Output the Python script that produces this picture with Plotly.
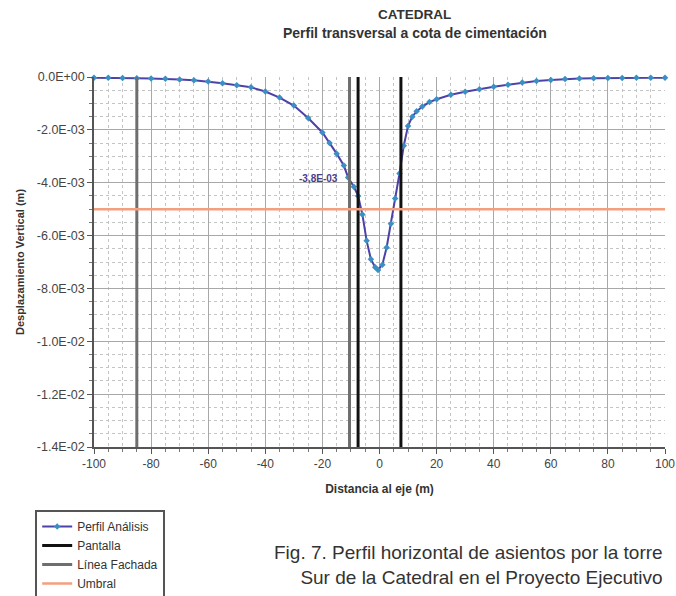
import plotly.graph_objects as go

# Perfil de asientos (distancia en m, desplazamiento vertical en m)
dist = [-100, -95, -90, -85, -80, -75, -70, -65, -60, -55, -50, -45, -40, -35,
        -30, -25, -20, -17.5, -15, -12.5, -11, -9, -7.5, -6, -4.5, -3, -1.5,
        -0.5, 1, 2.5, 4, 5.5, 7, 8.5, 10, 11.5, 13, 15, 17.5, 20, 25, 30, 35,
        40, 45, 50, 55, 60, 65, 70, 75, 80, 85, 90, 95, 100]
asiento = [-0.03e-3, -0.03e-3, -0.04e-3, -0.05e-3, -0.06e-3, -0.07e-3, -0.09e-3,
           -0.12e-3, -0.17e-3, -0.24e-3, -0.31e-3, -0.39e-3, -0.55e-3, -0.78e-3,
           -1.08e-3, -1.55e-3, -2.10e-3, -2.50e-3, -2.90e-3, -3.35e-3, -3.80e-3,
           -4.15e-3, -4.50e-3, -5.20e-3, -6.20e-3, -6.90e-3, -7.20e-3, -7.30e-3,
           -7.10e-3, -6.45e-3, -5.55e-3, -4.60e-3, -3.65e-3, -2.60e-3, -1.85e-3,
           -1.50e-3, -1.30e-3, -1.12e-3, -0.95e-3, -0.84e-3, -0.67e-3, -0.56e-3,
           -0.46e-3, -0.37e-3, -0.29e-3, -0.21e-3, -0.15e-3, -0.11e-3, -0.08e-3,
           -0.06e-3, -0.05e-3, -0.04e-3, -0.04e-3, -0.03e-3, -0.03e-3, -0.03e-3]

# Punto etiquetado
punto_x = -11
punto_y = -3.8e-3
punto_txt = "-3,8E-03"

# Elementos de referencia
pantalla_x = [-7.5, 7.5]
fachada_x = [-85, -10.5]
umbral = -5e-3

x_rango = [-100, 100]
y_rango = [-0.014, 0.0]

x_ticks = [-100, -80, -60, -40, -20, 0, 20, 40, 60, 80, 100]
x_ticktext = ["-100", "-80", "-60", "-40", "-20", "0", "20", "40", "60",
              "80", "100"]
y_ticks = [0.0, -0.002, -0.004, -0.006, -0.008, -0.010, -0.012, -0.014]
y_ticktext = ["0.0E+00", "-2.0E-03", "-4.0E-03", "-6.0E-03", "-8.0E-03",
              "-1.0E-02", "-1.2E-02", "-1.4E-02"]

titulo = "CATEDRAL"
subtitulo = "Perfil transversal a cota de cimentación"
pie = ("Fig. 7. Perfil horizontal de asientos por la torre<br>"
       "Sur de la Catedral en el Proyecto Ejecutivo")

FONT = "Liberation Sans, Arial"


def verticales(xs):
    vx, vy = [], []
    for xv in xs:
        vx += [xv, xv, None]
        vy += [y_rango[1], y_rango[0], None]
    return vx, vy


fig = go.Figure()

fig.add_trace(go.Scatter(
    x=dist, y=asiento, mode="lines+markers", name="Perfil Análisis",
    line=dict(color="#4d42a8", width=2),
    marker=dict(symbol="diamond", size=5, color="#3a8fc4"),
    cliponaxis=False,
))

px_, py_ = verticales(pantalla_x)
fig.add_trace(go.Scatter(x=px_, y=py_, mode="lines", name="Pantalla",
                         line=dict(color="#111111", width=3)))

fx_, fy_ = verticales(fachada_x)
fig.add_trace(go.Scatter(x=fx_, y=fy_, mode="lines", name="Línea Fachada",
                         line=dict(color="#6e6e6e", width=3)))

fig.add_trace(go.Scatter(x=x_rango, y=[umbral, umbral], mode="lines",
                         name="Umbral", line=dict(color="#f2a07e", width=2.5)))

fig.add_annotation(x=punto_x, y=punto_y, text="<b>" + punto_txt + "</b>",
                   showarrow=False, xanchor="right", xshift=-8, yshift=-1,
                   font=dict(size=10, color="#4a3c8c", family=FONT))

# Título y subtítulo
fig.add_annotation(x=0.562, y=1.168, xref="paper", yref="paper",
                   xanchor="center", yanchor="middle", showarrow=False,
                   text="<b>" + titulo + "</b>",
                   font=dict(size=13.5, color="#333333", family=FONT))
fig.add_annotation(x=0.562, y=1.119, xref="paper", yref="paper",
                   xanchor="center", yanchor="middle", showarrow=False,
                   text="<b>" + subtitulo + "</b>",
                   font=dict(size=14, color="#333333", family=FONT))

# Pie de figura
fig.add_annotation(
    x=1.0, y=-0.25, xref="paper", yref="paper", xanchor="right",
    yanchor="top", align="right", showarrow=False, text=pie,
    font=dict(size=19, color="#333333", family=FONT),
)

axis_common = dict(
    showline=True, linecolor="#555555", linewidth=1.5,
    ticks="outside", ticklen=5, tickcolor="#555555",
    showgrid=True, gridcolor="#a8a8a8", gridwidth=1.2,
    zeroline=False, mirror=False,
)

fig.update_xaxes(
    range=x_rango, tickvals=x_ticks, ticktext=x_ticktext, **axis_common,
    tickfont=dict(size=12, color="#444444", family=FONT),
    minor=dict(dtick=5, showgrid=True, gridcolor="#c4c4c4", griddash="dot",
               ticks="outside", ticklen=3, tickcolor="#777777"),
    title=dict(text="<b>Distancia al eje (m)</b>", standoff=14,
               font=dict(size=12, color="#333333", family=FONT)),
)
fig.update_yaxes(
    range=y_rango, tickvals=y_ticks, ticktext=y_ticktext, **axis_common,
    tickfont=dict(size=12.5, color="#444444", family=FONT),
    minor=dict(dtick=0.0005, showgrid=True, gridcolor="#c4c4c4",
               griddash="dot", ticks="outside", ticklen=3,
               tickcolor="#777777"),
    title=dict(text="<b>Desplazamiento Vertical (m)</b>", standoff=10,
               font=dict(size=11, color="#333333", family=FONT)),
)

fig.update_layout(
    width=676, height=596,
    margin=dict(l=94, r=11, t=77, b=149, autoexpand=False),
    paper_bgcolor="white", plot_bgcolor="white",
    showlegend=True,
    legend=dict(
        x=-0.103, y=-0.170, xanchor="left", yanchor="top",
        bordercolor="#555555", borderwidth=2, bgcolor="white",
        font=dict(size=12, color="#333333", family=FONT),
        tracegroupgap=0, itemwidth=30,
    ),
)

fig.write_html("out.html")
